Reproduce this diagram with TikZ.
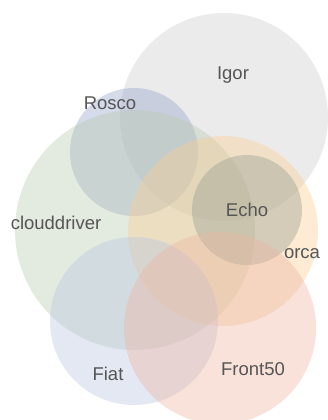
\documentclass[tikz,border=0pt]{standalone}
\usepackage{fontspec}
\setmainfont{Liberation Sans}
\usepackage{xcolor}
\usepackage{tikz}
\usetikzlibrary{positioning}
\definecolor{igorc}{RGB}{205,205,205}
\definecolor{roscoc}{RGB}{150,165,202}
\definecolor{cloudc}{RGB}{185,202,175}
\definecolor{orcac}{RGB}{250,205,147}
\definecolor{echoc}{RGB}{150,158,145}
\definecolor{fiatc}{RGB}{185,197,225}
\definecolor{frontc}{RGB}{237,182,162}
\definecolor{tagc}{RGB}{85,85,85}
\tikzstyle{set} = [circle,draw=none,inner sep=0pt,fill opacity=0.4]
\tikzstyle{tag} = [inner sep=0pt,text=tagc,font=\fontsize{18.5}{21}\selectfont]

\begin{document}
\begin{tikzpicture}[x=1pt,y=-1pt]
  \useasboundingbox (0,0) rectangle (328,420);
  % sets
  \node[set, fill=igorc,  minimum size=208pt] (igor)  at (224,117) {};
  \node[set, fill=roscoc, minimum size=128pt] (rosco) at (134,152) {};
  \node[set, fill=cloudc, minimum size=240pt] (cloud) at (135,230) {};
  \node[set, fill=orcac,  minimum size=190pt] (orca)  at (223,231) {};
  \node[set, fill=echoc,  minimum size=110pt] (echo)  at (247,210) {};
  \node[set, fill=fiatc,  minimum size=168pt] (fiat)  at (134,321) {};
  \node[set, fill=frontc, minimum size=192pt] (front) at (220,328) {};
  % labels
  \node[tag] (igortag)  at (233,75)  {Igor};
  \node[tag] (roscotag) at (110,103) {Rosco};
  \node[tag] (echotag)  at (247,210) {Echo};
  \node[tag] (cloudtag) at (56,223)  {clouddriver};
  \node[tag] (orcatag)  at (302,254) {orca};
  \node[tag] (fiattag)  at (108,374) {Fiat};
  \node[tag] (fronttag) at (253,369) {Front50};
\end{tikzpicture}
\end{document}
